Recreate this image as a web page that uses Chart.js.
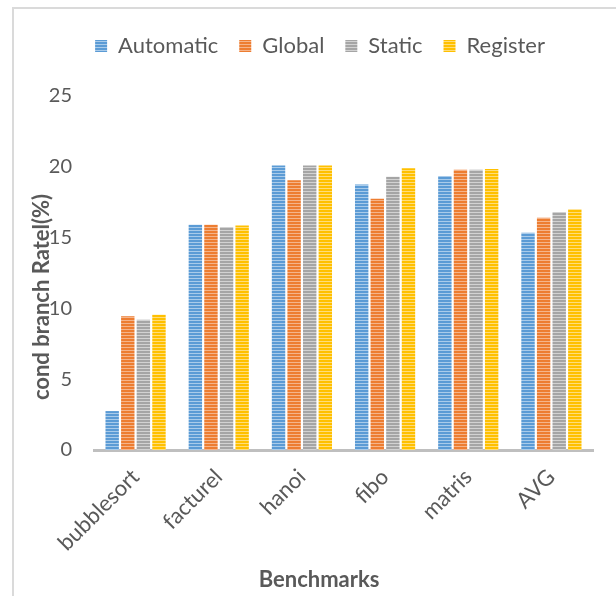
<!DOCTYPE html>
<html>
<head>
<meta charset="utf-8">
<script src="https://cdn.jsdelivr.net/npm/chart.js@4"></script>
<style>
  html, body { margin: 0; padding: 0; background: #fff; overflow: hidden; }
  #wrap { position: relative; width: 616px; height: 596px; overflow: hidden; }
  #frame { position: absolute; left: 12px; top: 7px; width: 640px; height: 640px; border-left: 2px solid #dadada; border-top: 2px solid #dadada; }
  #grafica { position: absolute; left: 0; top: 0; }
</style>
</head>
<body>
<div id="wrap">
  <div id="frame"></div>
  <canvas id="grafica" width="616" height="596"></canvas>
</div>
<script>
// --- datos ---
const benchmarks = ['bubblesort', 'facturel', 'hanoi', 'fibo', 'matris', 'AVG'];
const automatic = [2.75, 15.9, 20.1, 18.75, 19.35, 15.35];
const globalVals = [9.45, 15.9, 19.05, 17.75, 19.8, 16.4];
const staticVals = [9.2, 15.75, 20.1, 19.3, 19.8, 16.8];
const register = [9.55, 15.85, 20.1, 19.9, 19.85, 17.0];
const yTicks = [0, 5, 10, 15, 20, 25];

const textColor = '#595959';
const fontFamily = 'Lato, "Open Sans", sans-serif';

// rayas horizontales como en Excel: 2px color, 1px claro
function rayas(color, claro) {
  const c = document.createElement('canvas');
  c.width = 4;
  c.height = 3;
  const g = c.getContext('2d');
  g.fillStyle = color;
  g.fillRect(0, 0, 4, 2);
  g.fillStyle = claro;
  g.fillRect(0, 2, 4, 1);
  return g.createPattern(c, 'repeat');
}

const ctx = document.getElementById('grafica').getContext('2d');

const series = [
  { label: 'Automatic', data: automatic, color: '#5b9bd5', claro: '#a9cbea' },
  { label: 'Global', data: globalVals, color: '#ed7d31', claro: '#f5b48a' },
  { label: 'Static', data: staticVals, color: '#a5a5a5', claro: '#d2d2d2' },
  { label: 'Register', data: register, color: '#ffc000', claro: '#ffdd7a' }
];

// titulos de ejes dibujados a mano (Excel no los centra en el area)
const titulosEjes = {
  id: 'titulosEjes',
  afterDraw(chart) {
    const c = chart.ctx;
    c.save();
    c.fillStyle = textColor;
    c.font = 'bold 22px ' + fontFamily;
    c.textAlign = 'center';
    c.textBaseline = 'middle';
    c.fillText('Benchmarks', 319, 580);
    c.translate(42, 297);
    c.rotate(-Math.PI / 2);
    c.fillText('cond branch Ratel(%)', 0, 0);
    c.restore();
  }
};

// altura fija de la leyenda
const alturaLeyenda = {
  id: 'alturaLeyenda',
  beforeInit(chart) {
    const fitOrig = chart.legend.fit;
    chart.legend.fit = function () {
      fitOrig.call(this);
      this.height = 82;
    };
  }
};

new Chart(ctx, {
  type: 'bar',
  data: {
    labels: benchmarks,
    datasets: series.map((s) => ({
      label: s.label,
      data: s.data,
      backgroundColor: rayas(s.color, s.claro),
      borderWidth: 0,
      categoryPercentage: 0.75,
      barPercentage: 0.86
    }))
  },
  options: {
    responsive: false,
    animation: false,
    layout: { padding: { left: 47, right: 23, top: 14, bottom: 0 } },
    plugins: {
      legend: {
        position: 'top',
        labels: {
          boxWidth: 12,
          boxHeight: 12,
          padding: 21,
          color: textColor,
          font: { family: fontFamily, size: 22 },
          generateLabels: (chart) => series.map((s, i) => ({
            text: s.label,
            fillStyle: rayas(s.color, s.claro),
            strokeStyle: 'transparent',
            lineWidth: 0,
            fontColor: textColor,
            datasetIndex: i
          }))
        }
      },
      tooltip: { enabled: false }
    },
    scales: {
      x: {
        grid: { display: false, drawTicks: false },
        border: { display: true, color: '#bfbfbf', width: 3 },
        ticks: {
          color: textColor,
          font: { family: fontFamily, size: 22 },
          minRotation: 45,
          maxRotation: 45,
          padding: 14
        },
        afterFit: (s) => { s.height = 146; }
      },
      y: {
        min: 0,
        max: 25,
        grid: { display: false, drawTicks: false },
        border: { display: false },
        afterBuildTicks: (s) => { s.ticks = yTicks.map((v) => ({ value: v })); },
        ticks: {
          color: textColor,
          font: { family: fontFamily, size: 20 },
          padding: 22
        },
        afterFit: (s) => { s.width = 47; }
      }
    }
  },
  plugins: [alturaLeyenda, titulosEjes]
});
</script>
</body>
</html>
